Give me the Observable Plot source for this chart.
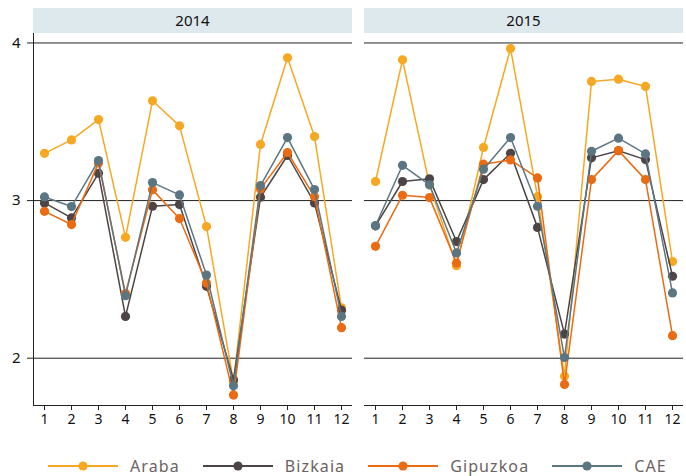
<!DOCTYPE html>
<html><head><meta charset="utf-8">
<script src="https://cdn.jsdelivr.net/npm/d3@7"></script>
<script src="https://cdn.jsdelivr.net/npm/@observablehq/plot@0.6"></script>
<style>
body{margin:0;background:#fff;font-family:"Noto Sans",sans-serif;}
#wrap{position:relative;width:686px;height:476px;overflow:hidden;}
#legend{position:absolute;top:456px;left:48px;display:flex;align-items:center;gap:23px;height:20px;}
.item{display:flex;align-items:center;height:20px;}
.item span{margin-left:12px;font-size:16px;letter-spacing:1.1px;color:#6b6262;line-height:20px;}
</style></head><body><div id="wrap"><div id="chart"></div><div id="legend"></div></div>
<script>
const months = [1,2,3,4,5,6,7,8,9,10,11,12];
const years = ["2014","2015"];
const seriesNames = ["Araba","Bizkaia","Gipuzkoa","CAE"];
const seriesColors = ["#f7a823","#4d4545","#ea6b12","#5b7682"];
const yTicks = [2,3,4];

const araba2014    = [3.30, 3.385, 3.514, 2.767, 3.633, 3.474, 2.835, 1.85, 3.356, 3.906, 3.406, 2.32];
const bizkaia2014  = [2.985, 2.89, 3.173, 2.265, 2.964, 2.975, 2.456, 1.864, 3.021, 3.286, 2.985, 2.305];
const gipuzkoa2014 = [2.932, 2.848, 3.239, 2.41, 3.068, 2.886, 2.477, 1.766, 3.074, 3.305, 3.025, 2.194];
const cae2014      = [3.023, 2.962, 3.254, 2.397, 3.114, 3.036, 2.528, 1.825, 3.095, 3.40, 3.07, 2.265];

const araba2015    = [3.121, 3.893, 3.10, 2.587, 3.337, 3.965, 3.025, 1.885, 3.756, 3.77, 3.724, 2.613];
const bizkaia2015  = [2.84, 3.121, 3.138, 2.74, 3.133, 3.30, 2.83, 2.153, 3.271, 3.316, 3.26, 2.52];
const gipuzkoa2015 = [2.71, 3.034, 3.019, 2.604, 3.231, 3.258, 3.144, 1.834, 3.133, 3.317, 3.133, 2.143];
const cae2015      = [2.84, 3.224, 3.10, 2.668, 3.199, 3.40, 2.964, 2.004, 3.313, 3.396, 3.296, 2.414];

const valuesByYear = {
  "2014": [araba2014, bizkaia2014, gipuzkoa2014, cae2014],
  "2015": [araba2015, bizkaia2015, gipuzkoa2015, cae2015]
};

function rows(si) {
  const out = [];
  for (const yr of years) {
    valuesByYear[yr][si].forEach((v, i) => out.push({year: yr, month: months[i], value: v, series: seriesNames[si]}));
  }
  return out;
}

const yDomain = [1.70, 4.06];
const seriesMarks = [];
seriesNames.forEach((name, si) => {
  const d = rows(si);
  seriesMarks.push(Plot.line(d, {fx: "year", x: "month", y: "value", z: "year", stroke: seriesColors[si], strokeWidth: 1.5}));
  seriesMarks.push(Plot.dot(d, {fx: "year", x: "month", y: "value", r: 4.6, fill: seriesColors[si], stroke: "none"}));
});

const plot = Plot.plot({
  width: 686, height: 446,
  marginLeft: 32, marginRight: 2, marginTop: 33, marginBottom: 41,
  style: {fontFamily: "'Noto Sans', sans-serif", color: "#111", background: "#fff"},
  fx: {domain: years, paddingInner: 0.036, paddingOuter: 0, axis: null, label: null},
  x: {type: "point", domain: months, padding: 0.4, label: null},
  y: {domain: yDomain, label: null},
  marks: [
    Plot.ruleY(yTicks, {stroke: "#222", strokeWidth: 1}),
    Plot.ruleY([yDomain[0]], {stroke: "#222", strokeWidth: 1}),
    Plot.axisY({ticks: yTicks, tickFormat: "d", tickSize: 6, tickPadding: 7, fontSize: 15, label: null, stroke: "#222"}),
    Plot.axisX({ticks: months, tickSize: 5, tickPadding: 4, fontSize: 14, label: null, stroke: "#222"}),
    ...seriesMarks
  ]
});
document.getElementById("chart").appendChild(plot);

const fx = plot.scale("fx");
const ys = plot.scale("y");
const svg = d3.select(plot);

// left axis line on the first panel
svg.append("line")
  .attr("x1", fx.apply(years[0]) + 0.5).attr("x2", fx.apply(years[0]) + 0.5)
  .attr("y1", ys.apply(yDomain[1])).attr("y2", ys.apply(yDomain[0]))
  .attr("stroke", "#222").attr("stroke-width", 1);

// facet strips
const strips = svg.insert("g", ":scope > g").attr("class", "strips");
years.forEach(yr => {
  const x0 = fx.apply(yr);
  const bw = fx.bandwidth;
  strips.append("rect").attr("x", x0).attr("y", 8).attr("width", bw).attr("height", 25).attr("fill", "#dee9ee");
  strips.append("text").attr("x", x0 + bw / 2).attr("y", 21).attr("dy", "0.35em")
    .attr("text-anchor", "middle").attr("font-size", 15).attr("fill", "#111")
    .attr("font-family", "'Noto Sans', sans-serif").text(yr);
});

// legend
const legend = d3.select("#legend");
seriesNames.forEach((name, si) => {
  const item = legend.append("div").attr("class", "item");
  const s = item.append("svg").attr("width", 70).attr("height", 12);
  s.append("line").attr("x1", 0).attr("x2", 70).attr("y1", 6).attr("y2", 6).attr("stroke", seriesColors[si]).attr("stroke-width", 2);
  s.append("circle").attr("cx", 35).attr("cy", 6).attr("r", 4.6).attr("fill", seriesColors[si]);
  item.append("span").text(name);
});
</script></body></html>
